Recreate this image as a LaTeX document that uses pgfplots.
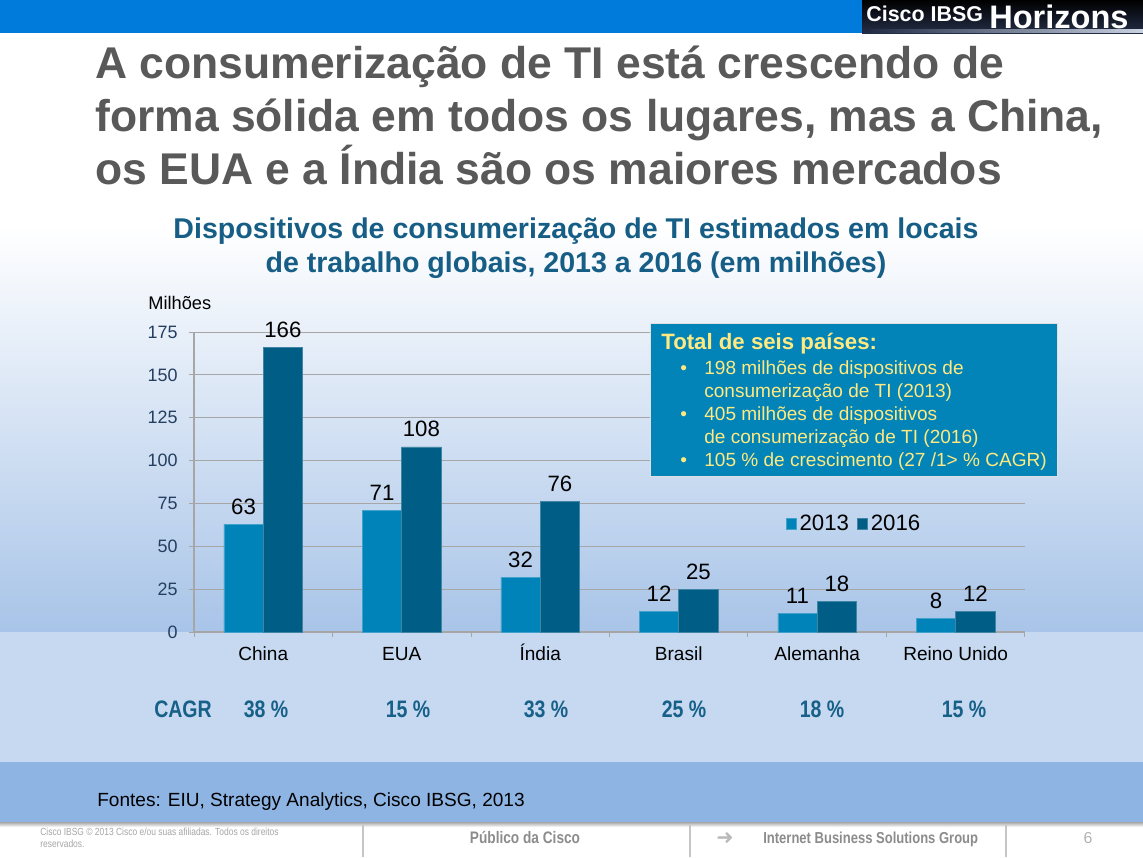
\documentclass[border=0pt]{standalone}
\usepackage{fontspec}
\setmainfont{Liberation Sans}
\newfontfamily\narrowfont[FakeStretch=0.82]{Liberation Sans}
\newfontfamily\djv{DejaVu Sans}
\usepackage{pgfplots}
\usepackage{pgfplotstable}
\pgfplotsset{compat=1.18}

\definecolor{hdrblue}{RGB}{0,123,219}
\definecolor{hdrdark}{RGB}{35,45,70}
\definecolor{hdrlight}{RGB}{200,210,225}
\definecolor{titlegray}{RGB}{89,89,89}
\definecolor{ctitle}{RGB}{22,94,134}
\definecolor{bgblue}{RGB}{168,196,232}
\definecolor{bandlight}{RGB}{198,217,241}
\definecolor{bandmid}{RGB}{142,180,227}
\definecolor{cA}{RGB}{0,131,184}
\definecolor{cB}{RGB}{0,94,134}
\definecolor{boxfill}{RGB}{2,132,184}
\definecolor{boxtext}{RGB}{255,233,128}
\definecolor{ticknavy}{RGB}{36,63,96}
\definecolor{gridgray}{RGB}{166,166,166}
\definecolor{cagr}{RGB}{23,96,136}
\definecolor{footgray}{RGB}{140,140,140}

\pgfdeclareverticalshading{slidebg}{100bp}{color(0bp)=(bgblue); color(25bp)=(bgblue); color(59bp)=(white); color(100bp)=(white)}

\pgfplotstableread{
x a b
0.5 63 166
1.5 71 108
2.5 32 76
3.5 12 25
4.5 11 18
5.5 8 12
}\data

\begin{document}
\begin{tikzpicture}
\begin{scope}[x=0.63pt,y=-0.63pt]
\useasboundingbox (0,0) rectangle (1143,857);
\fill[white] (0,0) rectangle (1143,857);
% background
\shade[shading=slidebg] (0,35) rectangle (1143,632);
\fill[bandlight] (0,632) rectangle (1143,762);
\fill[bandmid] (0,762) rectangle (1143,822);
\shade[top color=gray!70, bottom color=white] (0,822) rectangle (1143,827);
% header
\fill[hdrblue] (0,0) rectangle (1143,33);
\shade[top color=black, bottom color=hdrdark] (862,0) rectangle (1143,33);
\shade[left color=hdrdark, right color=hdrlight] (870,29) rectangle (1143,32);
\node[anchor=base west, inner sep=0, text=white, font=\fontsize{13.5}{16}\selectfont\bfseries] at (866,21) {Cisco IBSG};
\node[anchor=base west, inner sep=0, text=white, font=\fontsize{20.5}{22}\selectfont\bfseries] at (989,28) {Horizons};
% titles
\begin{scope}[every node/.style={anchor=base west, inner sep=0, text=titlegray, font=\fontsize{28}{30}\selectfont\bfseries}]
\node at (95,78) {A consumerização de TI está crescendo de};
\node at (95,131) {forma sólida em todos os lugares, mas a China,};
\node at (95,184) {os EUA e a Índia são os maiores mercados};
\end{scope}
\begin{scope}[every node/.style={anchor=base, inner sep=0, text=ctitle, font=\fontsize{18}{20}\selectfont\bfseries}]
\node at (576,238) {Dispositivos de consumerização de TI estimados em locais};
\node at (576,272) {de trabalho globais, 2013 a 2016 (em milhões)};
\end{scope}
\node[anchor=base west, inner sep=0, font=\fontsize{11.5}{13}\selectfont] at (148,309) {Milhões};
\end{scope}

\begin{axis}[
  at={(122.22pt,-398.16pt)}, anchor=south west,
  scale only axis, width=523.5pt, height=189pt,
  xmin=0, xmax=6, ymin=0, ymax=175, enlargelimits=false,
  /pgf/number format/assume math mode=true,
  axis lines=left,
  axis line style={-, draw=gridgray, line width=0.75pt},
  tick align=outside, major tick length=3.2pt,
  tick style={draw=gridgray, line width=0.6pt},
  ymajorgrids, grid style={draw=gridgray, line width=0.6pt},
  ytick={0,25,...,175},
  xtick={0,1,...,6}, xticklabels={},
  extra x ticks={0.5,1.5,2.5,3.5,4.5,5.5},
  extra x tick labels={China,EUA,Índia,Brasil,Alemanha,Reino Unido},
  extra x tick style={major tick length=0pt, grid=none},
  xticklabel style={anchor=base, yshift=-17.8pt, font=\fontsize{12}{14}\selectfont, text=black},
  yticklabel style={xshift=-3.6pt, font=\fontsize{11.3}{13}\selectfont, text=ticknavy},
  ybar=0pt, bar width=24.8pt,
  nodes near coords,
  nodes near coords style={font=\fontsize{14}{16}\selectfont, text=black, yshift=2.6pt},
  legend style={draw=none, fill=none, at={(0.795,0.36)}, anchor=center,
    legend columns=2, font=\fontsize{14}{16}\selectfont,
    /tikz/every even column/.append style={column sep=3pt}},
  legend image code/.code={\fill[#1] (0pt,-3.4pt) rectangle (6.3pt,3.4pt);},
]
\addplot[fill=cA, draw=cA!75!white, line width=0.4pt] table[x=x,y=a] {\data};
\addplot[fill=cB, draw=cB!75!white, line width=0.4pt] table[x=x,y=b] {\data};
\legend{2013,2016}
\end{axis}

\begin{scope}[x=0.63pt,y=-0.63pt]
% info box
\fill[boxfill] (650,323) rectangle (1057,476);
\draw[white!75!gray, line width=0.6pt] (650,323) rectangle (1057,476);
\node[anchor=base west, inner sep=0, text=boxtext, font=\fontsize{14}{16}\selectfont\bfseries] at (661,349) {Total de seis países:};
\begin{scope}[every node/.style={anchor=base west, inner sep=0, text=boxtext, font=\fontsize{12}{14}\selectfont}]
\node at (680,374) {•};
\node at (704,374) {198 milhões de dispositivos de};
\node at (704,397) {consumerização de TI (2013)};
\node at (680,420) {•};
\node at (704,420) {405 milhões de dispositivos};
\node at (704,443) {de consumerização de TI (2016)};
\node at (680,466) {•};
\node at (704,466) {105 \% de crescimento (27 /1> \% CAGR)};
\end{scope}
% CAGR row
\begin{scope}[every node/.style={anchor=base, inner sep=0, text=cagr, font=\narrowfont\fontsize{15}{17}\selectfont\bfseries}]
\node at (183,717) {CAGR};
\node at (266,717) {38 \%};
\node at (408,717) {15 \%};
\node at (546,717) {33 \%};
\node at (684,717) {25 \%};
\node at (822,717) {18 \%};
\node at (964,717) {15 \%};
\end{scope}
% sources
\node[anchor=base west, inner sep=0, font=\fontsize{12}{14}\selectfont] at (97,806) {Fontes: EIU, Strategy Analytics, Cisco IBSG, 2013};
% footer
\draw[gray!45, line width=0.7pt] (363,825) -- (363,857);
\draw[gray!45, line width=0.7pt] (690,825) -- (690,857);
\draw[gray!45, line width=0.7pt] (1006,825) -- (1006,857);
\node[anchor=base west, inner sep=0, text=gray!70, font=\narrowfont\fontsize{6.5}{7}\selectfont] at (40,835) {Cisco IBSG © 2013 Cisco e/ou suas afiliadas. Todos os direitos};
\node[anchor=base west, inner sep=0, text=gray!70, font=\narrowfont\fontsize{6.5}{7}\selectfont] at (40,847) {reservados.};
\node[anchor=base, inner sep=0, text=footgray, font=\narrowfont\fontsize{10.5}{12}\selectfont\bfseries] at (525,843) {Público da Cisco};
\node[anchor=base, inner sep=0, text=gray!55, font=\djv\fontsize{13}{14}\selectfont] at (725,844) {➜};
\node[anchor=base west, inner sep=0, text=footgray, font=\narrowfont\fontsize{10}{12}\selectfont\bfseries] at (763,843) {Internet Business Solutions Group};
\node[anchor=base, inner sep=0, text=gray!60, font=\fontsize{10}{12}\selectfont] at (1088,843) {6};
\end{scope}
\end{tikzpicture}
\end{document}
